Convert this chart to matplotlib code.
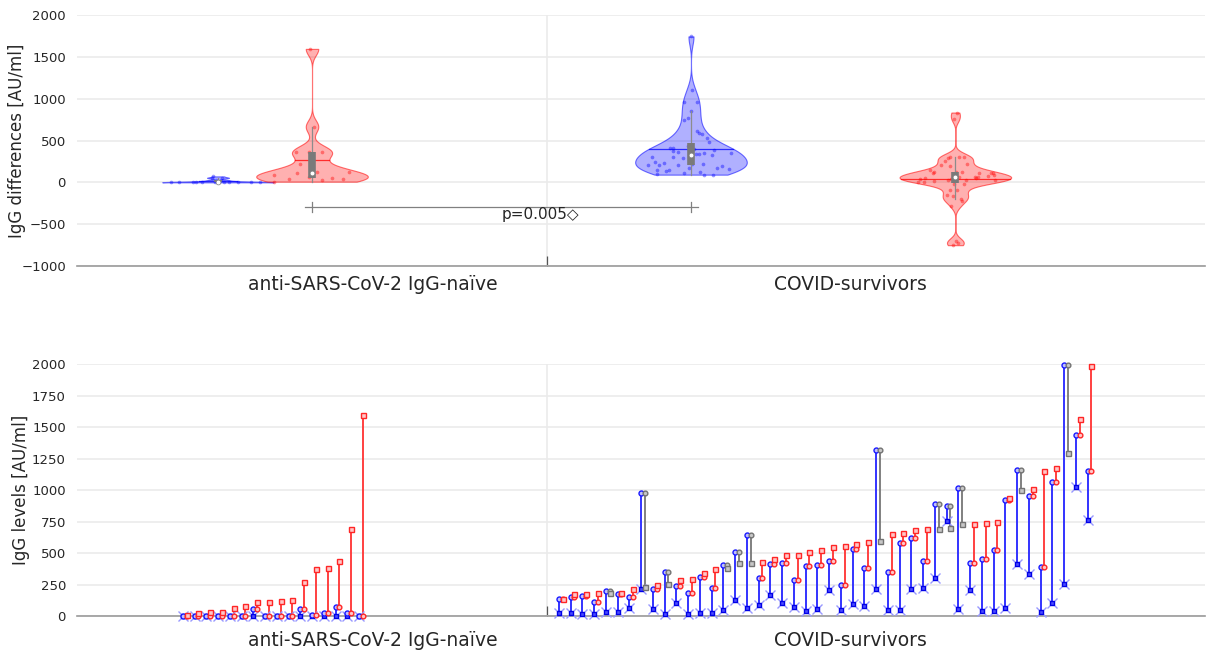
import numpy as np
import matplotlib.pyplot as plt

# IgG levels [AU/ml]: baseline (t1), after 1st dose (t2), after 2nd dose (t3)
# subjects sorted by t3
naive_t1 = [0, 0, 0, 0, 0, 0, 0, 0, 0, 0, 0, 0, 0, 0, 0, 0]
naive_t2 = [2, 0, 0, 0, 0, 0, 53, 0, 0, 0, 53, 8, 24, 71, 24, 0]
naive_t3 = [10, 26, 34, 34, 66, 82, 108, 112, 118, 128, 270, 373, 384, 436, 690, 1595]

surv_t1 = [27, 21, 13, 16, 29, 29, 61, 212, 56, 13, 103, 13, 21, 21, 50, 130,
           61, 85, 164, 101, 74, 42, 58, 210, 48, 92, 76, 215, 45, 50, 215, 225,
           304, 757, 53, 206, 42, 42, 66, 410, 336, 30, 100, 251, 1026, 765]
surv_t2 = [132, 148, 161, 108, 201, 177, 153, 979, 214, 349, 241, 185, 312, 225, 402, 510,
           643, 304, 410, 423, 287, 395, 402, 437, 249, 528, 378, 1317, 347, 577, 616, 434,
           889, 870, 1013, 423, 450, 524, 918, 1159, 952, 392, 1061, 1995, 1437, 1153]
surv_t3 = [137, 174, 177, 185, 180, 185, 217, 228, 243, 254, 288, 296, 339, 376, 384, 420,
           423, 428, 453, 484, 484, 505, 522, 546, 556, 572, 584, 598, 652, 662, 683, 690,
           690, 701, 728, 730, 741, 746, 934, 1002, 1008, 1148, 1172, 1291, 1561, 1987]

groups = ['anti-SARS-CoV-2 IgG-naïve', 'COVID-survivors']
p_text = 'p=0.005◇'

BLUE = (0, 0, 1)
RED = (1, 0, 0)
TXT = '#262626'


def bandwidth(v):
    sig = np.median(np.abs(v - np.median(v))) / 0.6745
    if sig <= 0:
        sig = v.max() - v.min()
    return sig * (4 / (3 * len(v))) ** 0.2


def violin(ax, vals, pos, col, h=None, halfw=4.75):
    v = np.asarray(vals, float)
    if h is None:
        h = bandwidth(v)
    grid = np.linspace(v.min(), v.max(), 300)
    z = (grid[:, None] - v[None, :]) / h
    dens = np.exp(-0.5 * z ** 2).sum(1)
    half = dens / dens.max() * halfw
    ax.fill_betweenx(grid, pos - half, pos + half, facecolor=col + (0.31,),
                     edgecolor=col + (0.55,), lw=0.8, zorder=2)
    # jittered points (deterministic spread inside the violin)
    jit = ((np.arange(len(v)) * 0.618034) % 1 - 0.5) * 1.7
    ax.scatter(pos + jit * np.interp(v, grid, half), v, s=7, color=col,
               alpha=0.4, lw=0, zorder=3)
    m = v.mean()
    hm = np.interp(m, grid, half)
    ax.plot([pos - hm, pos + hm], [m, m], color=col + (0.75,), lw=0.9, zorder=4)
    q1, med, q3 = np.percentile(v, [25, 50, 75])
    iqr = q3 - q1
    lo = v[v >= q1 - 1.5 * iqr].min()
    hi = v[v <= q3 + 1.5 * iqr].max()
    ax.plot([pos, pos], [lo, hi], color='#8c8c8c', lw=0.9, zorder=5)
    ax.plot([pos, pos], [q1, q3], color='#7a7a7a', lw=5.5, solid_capstyle='butt', zorder=6)
    ax.scatter([pos], [med], s=12, color='white', edgecolors='#7a7a7a', lw=0.5, zorder=7)


def style(ax, pad):
    for s in ['left', 'top', 'right']:
        ax.spines[s].set_visible(False)
    ax.spines['bottom'].set_color('#9a9a9a')
    ax.spines['bottom'].set_linewidth(1.2)
    ax.set_xlim(0, 96)
    ax.set_xticks([40], labels=[''])
    ax.set_xticks([25.2, 65.8], labels=groups, minor=True)
    ax.tick_params(axis='x', which='major', direction='in', length=7.5, color='#555555', width=0.9)
    ax.tick_params(axis='x', which='minor', length=0, labelsize=13.5, labelcolor=TXT, pad=pad)
    ax.tick_params(axis='y', length=0, labelsize=9.5, labelcolor=TXT, pad=8)
    ax.grid(True, which='major', color='#ebebeb', lw=1.2)
    ax.set_axisbelow(True)


fig = plt.figure(figsize=(12.07, 6.52), dpi=100)
ax1 = fig.add_axes([0.0638, 0.592, 0.9346, 0.385])
ax2 = fig.add_axes([0.0638, 0.0552, 0.9346, 0.3865])

# ---- top: differences between time points
n_t1, n_t2, n_t3 = np.array(naive_t1), np.array(naive_t2), np.array(naive_t3)
s_t1, s_t2, s_t3 = np.array(surv_t1), np.array(surv_t2), np.array(surv_t3)

violin(ax1, n_t2 - n_t1, 12, BLUE, h=8)
violin(ax1, n_t3 - n_t2, 20, RED)
violin(ax1, s_t2 - s_t1, 52.25, BLUE)
violin(ax1, s_t3 - s_t2, 74.75, RED)

ax1.plot([19.4, 52.85], [-300, -300], color='#808080', lw=0.9)
for xb in [20, 52.25]:
    ax1.plot([xb, xb], [-360, -240], color='#808080', lw=0.9)
ax1.text(36.1, -390, p_text, ha='left', va='center', fontsize=11, color=TXT)

style(ax1, 6.5)
ax1.set_ylim(-1000, 2000)
ax1.set_yticks(np.arange(-1000, 2001, 500))
ax1.set_ylabel('IgG differences [AU/ml]', fontsize=12, color=TXT)
ax1.yaxis.set_label_coords(-0.045, 0.5)

# ---- bottom: individual trajectories
dx = 0.32


def trajectories(ax, t1, t2, t3, x0):
    x = x0 + np.arange(len(t1))
    up = t3 >= t2
    col2 = np.where(up[:, None], np.array([[1, 0.25, 0.25]]), np.array([[0.5, 0.5, 0.5]]))
    ax.vlines(x, t1, t2, color=(0.2, 0.2, 1), lw=1.4, zorder=3)
    ax.vlines(x + dx, t2, t3, colors=col2, lw=1.4, zorder=3)
    ax.plot(x, t1, 'x', ms=7, mew=1.0, color=(0.6, 0.6, 1), zorder=4, clip_on=False)
    ax.plot(x, t1, 's', ms=3.2, mew=1.0, mfc=(0.3, 0.3, 1), mec=(0, 0, 0.9), zorder=5, clip_on=False)
    ax.plot(x, t2, 'o', ms=3.6, mew=1.0, mfc=(0.75, 0.75, 1), mec=(0.1, 0.1, 1), zorder=5, clip_on=False)
    for mask, ec, fc in [(up, (1, 0.15, 0.15), (1, 0.78, 0.78)), (~up, (0.45, 0.45, 0.45), (0.78, 0.78, 0.78))]:
        ax.plot(x[mask] + dx, t2[mask], 'o', ms=3.4, mew=1.0, mfc=fc, mec=ec, zorder=5, clip_on=False)
        ax.plot(x[mask] + dx, t3[mask], 's', ms=3.6, mew=1.0, mfc=fc, mec=ec, zorder=5, clip_on=False)


trajectories(ax2, n_t1, n_t2, n_t3, 9)
trajectories(ax2, s_t1, s_t2, s_t3, 41)

style(ax2, 11)
ax2.set_ylim(0, 2000)
ax2.set_yticks(np.arange(0, 2001, 250))
ax2.set_ylabel('IgG levels [AU/ml]', fontsize=12, color=TXT)
ax2.yaxis.set_label_coords(-0.042, 0.5)

fig.savefig('out.png', dpi=100)
